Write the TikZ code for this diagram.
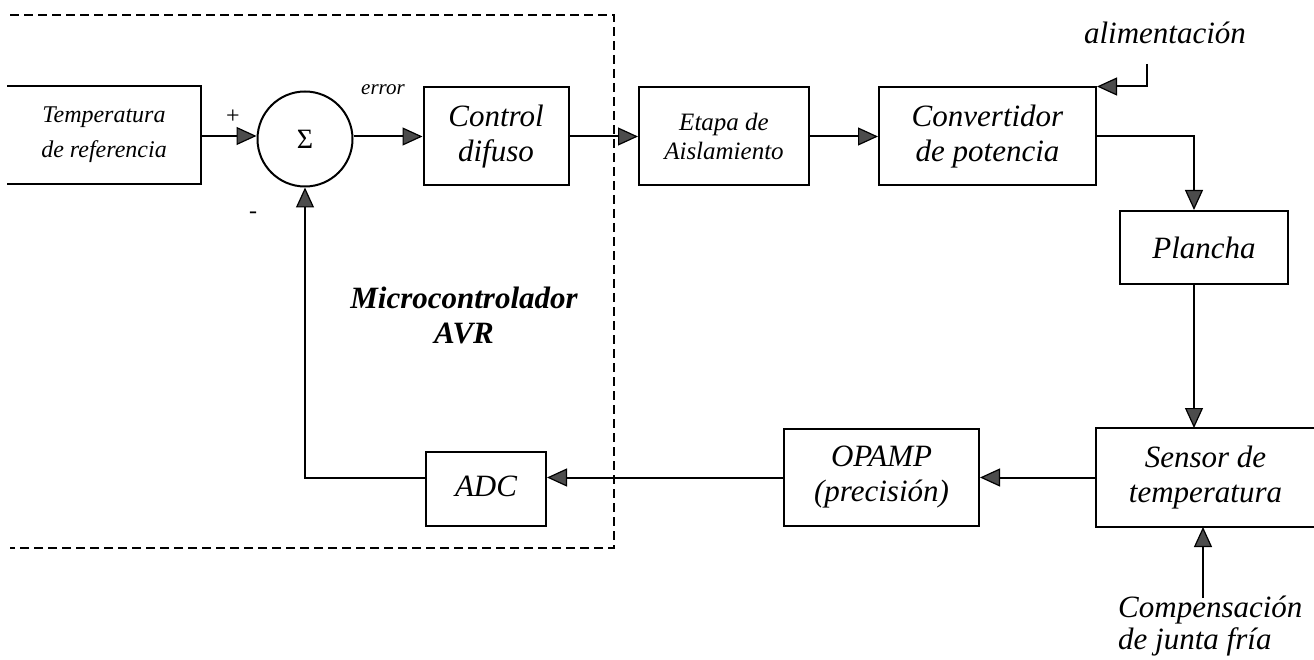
\documentclass[tikz,border=0pt]{standalone}
\usepackage{fontspec}
\setmainfont{Liberation Serif}
\usetikzlibrary{arrows.meta,calc}
\begin{document}
\begin{tikzpicture}[x=1pt,y=-1pt,
  blk/.style={draw, line width=2pt, inner sep=0pt, align=center,
    font=\itshape\fontsize{31}{35}\selectfont},
  wire/.style={line width=2pt},
  sig/.style={line width=2pt,
    -{Triangle[length=20pt,width=18pt,fill=black!70,line width=1.2pt]}},
  lbl/.style={font=\itshape\fontsize{31}{32}\selectfont, align=center, inner sep=0pt},
  border/.style={line width=2pt, dash pattern=on 9pt off 5pt},
]
\useasboundingbox (0,0) rectangle (1314,660);

% microcontroller boundary (open on the left)
\draw[border] (10,15) -- (614,15) -- (614,548) -- (10,548);

% forward path
\node[blk, draw=none, font=\itshape\fontsize{24}{31}\selectfont,
      minimum width=192pt, minimum height=96pt] (tref) at (104,135) {\raisebox{4pt}{Temperatura}\\de referencia};
\draw[wire] (tref.north west) -- (tref.north east) -- (tref.south east) -- (tref.south west);
\node[circle, draw, line width=2pt, minimum size=95pt, inner sep=0pt,
      font=\fontsize{28}{28}\selectfont] (sum) at (305,139) {\raisebox{-4pt}{Σ}};
\node[blk, minimum width=145pt, minimum height=98pt] (ctrl) at (496,136.5) {Control\\difuso};
\node[blk, font=\itshape\fontsize{25}{29}\selectfont,
      minimum width=170pt, minimum height=98pt] (etapa) at (724,136.5) {Etapa de\\Aislamiento};
\node[blk, minimum width=217pt, minimum height=98pt] (conv) at (987.5,136.5) {Convertidor\\de potencia};
\node[blk, minimum width=168pt, minimum height=73pt] (plancha) at (1204,247.5) {Plancha};

% feedback path
\node[blk, draw=none, minimum width=217pt, minimum height=97pt] (sensor) at (1205.5,477.5) {Sensor de\\temperatura};
\draw[wire] (sensor.north east) -- (sensor.north west) -- (sensor.south west) -- (sensor.south east);
\node[blk, minimum width=195pt, minimum height=97pt] (opamp) at (881.5,477.5) {OPAMP\\(precisión)};
\node[blk, minimum width=120pt, minimum height=74pt] (adc) at (486,489) {\raisebox{6pt}{ADC}};

% labels
\node[lbl] (alim) at (1165,33) {alimentación};
\node[lbl, align=left, anchor=north west] (comp) at (1118,596) {Compensación\\de junta fría};
\node[font=\itshape\fontsize{21}{21}\selectfont] (err) at (383,90) {error};
\node[font=\fontsize{24}{24}\selectfont] (plus) at (233,117) {+};
\node[font=\fontsize{24}{24}\selectfont] (minus) at (253,215) {-};
\node[font=\bfseries\itshape\fontsize{31}{35}\selectfont, align=center] (mcu) at (464,315) {Microcontrolador\\AVR};

% connectors
\draw[sig] (tref.east |- 0,136) -- (sum.west |- 0,136);
\draw[sig] (sum.east |- ctrl.west) -- (ctrl.west);
\draw[sig] (ctrl.east) -- (etapa.west);
\draw[sig] (etapa.east) -- (conv.west);
\coordinate (feed) at (1147,64);
\draw[sig] (feed) |- (conv.north east);
\draw[sig] (conv.east) -| ([xshift=-10pt]plancha.north);
\draw[sig] ([xshift=-10pt]plancha.south) -- ([xshift=-10pt]plancha.south |- sensor.north);
\coordinate (cj) at (1203,598);
\draw[sig] (cj) -- (cj |- sensor.south);
\draw[sig] (sensor.west) -- (opamp.east);
\draw[sig] (opamp.west) -- (opamp.west -| adc.east);
\draw[sig] ([yshift=11pt]adc.west) -| (sum.south);
\end{tikzpicture}
\end{document}
